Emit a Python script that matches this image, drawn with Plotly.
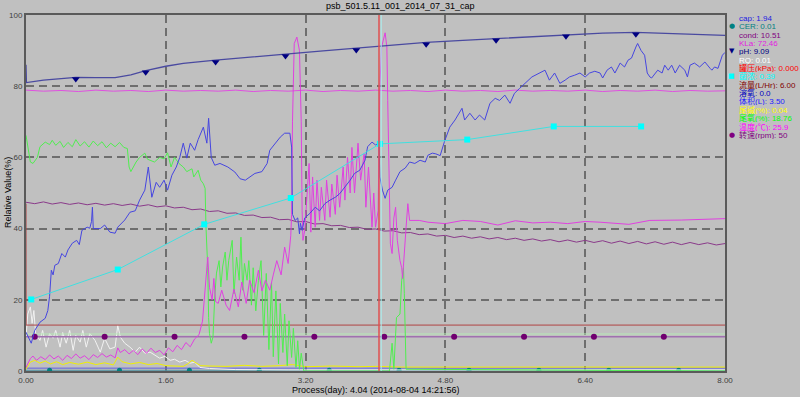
import plotly.graph_objects as go

# ---------------- data (days, relative value %) ----------------
title_text = "psb_501.5.11_001_2014_07_31_cap"
process_text = "Process(day): 4.04 (2014-08-04 14:21:56)"
cursor_day = 4.04

x_ticks = [0.0, 1.6, 3.2, 4.8, 6.4, 8.0]
x_tick_labels = ["0.00", "1.60", "3.20", "4.80", "6.40", "8.00"]
y_ticks = [0, 20, 40, 60, 80, 100]

ph_line = [(0.0, 86.0), (0.005, 81.0), (0.2, 81.7), (0.4, 82.2), (0.57, 82.5), (0.8, 82.4),
           (1.02, 82.4), (1.2, 83.2), (1.37, 84.4), (1.6, 85.6), (1.8, 86.4), (2.17, 87.3),
           (2.6, 88.3), (2.97, 89.0), (3.4, 89.9), (3.78, 90.7), (4.2, 91.6), (4.58, 92.3),
           (5.0, 92.9), (5.38, 93.4), (5.8, 94.0), (6.18, 94.5), (6.6, 94.9), (6.98, 95.1),
           (7.5, 94.7), (8.0, 94.3)]
ph_marker_days = [0.57, 1.37, 2.17, 2.97, 3.78, 4.58, 5.38, 6.18, 6.98]
ph_marker_vals = [82.0, 83.9, 86.8, 88.5, 90.2, 91.8, 92.9, 94.0, 94.6]

temp_days = [i / 5 for i in range(41)]
temp_vals = [78.9, 78.6, 78.8, 78.5, 78.9, 78.6, 78.8, 78.5, 78.9, 78.6, 78.8,
             78.6, 78.9, 78.5, 78.8, 78.6, 78.9, 78.5, 78.8, 78.6, 78.9, 78.6,
             78.8, 78.5, 78.9, 78.6, 78.8, 78.5, 78.9, 78.6, 78.8, 78.6, 78.9,
             78.5, 78.8, 78.6, 78.9, 78.5, 78.8, 78.6, 78.7]

do_series = [(0.00, 10.9), (0.03, 9.5), (0.06, 7.8), (0.10, 11.4), (0.16, 13.7), (0.22, 14.8),
             (0.25, 17.0), (0.27, 21.0), (0.29, 28.3), (0.31, 27.0), (0.33, 29.7), (0.37, 30.2),
             (0.41, 33.0), (0.45, 32.0), (0.48, 34.0), (0.53, 35.9), (0.58, 36.7), (0.61, 35.5),
             (0.64, 39.5), (0.70, 40.4), (0.73, 40.1), (0.75, 42.0), (0.76, 46.0), (0.77, 40.0),
             (0.85, 40.0), (0.90, 41.0), (0.96, 39.0), (1.02, 38.7), (1.05, 40.4), (1.13, 42.4),
             (1.19, 44.6), (1.25, 45.0), (1.30, 48.0), (1.36, 50.8), (1.40, 57.3), (1.44, 48.8),
             (1.49, 53.0), (1.53, 51.6), (1.58, 53.6), (1.62, 50.8), (1.67, 55.0), (1.72, 57.3),
             (1.76, 60.0), (1.80, 64.0), (1.84, 59.8), (1.88, 64.0), (1.93, 62.0), (1.97, 65.0),
             (2.03, 68.5), (2.07, 64.0), (2.09, 71.0), (2.12, 60.0), (2.16, 57.8), (2.22, 58.3),
             (2.31, 57.3), (2.39, 55.9), (2.45, 54.0), (2.51, 53.6), (2.56, 54.5), (2.62, 55.5),
             (2.70, 56.0), (2.76, 58.3), (2.79, 62.0), (2.85, 64.0), (2.91, 65.7), (2.96, 66.8),
             (3.02, 66.8), (3.04, 62.9), (3.05, 44.0), (3.08, 42.3), (3.11, 43.0), (3.13, 38.5),
             (3.14, 41.5), (3.16, 39.5), (3.19, 43.0), (3.25, 44.3), (3.31, 46.0), (3.36, 45.0),
             (3.42, 47.0), (3.48, 48.0), (3.54, 48.8), (3.59, 49.8), (3.65, 51.6), (3.71, 53.6),
             (3.76, 55.5), (3.82, 56.4), (3.88, 59.2), (3.91, 63.0), (3.96, 64.3), (4.00, 63.5),
             (4.04, 64.0), (4.05, 54.5), (4.08, 50.8), (4.11, 48.5), (4.14, 50.8), (4.19, 51.6),
             (4.23, 53.6), (4.28, 56.0), (4.34, 57.0), (4.39, 58.7), (4.45, 58.3), (4.51, 59.2),
             (4.57, 58.7), (4.60, 60.6), (4.65, 61.2), (4.69, 61.0), (4.74, 60.5), (4.79, 64.5),
             (4.85, 68.5), (4.91, 70.5), (4.99, 73.8), (5.02, 70.5), (5.08, 72.4), (5.14, 70.5),
             (5.19, 71.9), (5.25, 70.5), (5.31, 75.2), (5.37, 76.6), (5.42, 76.0), (5.48, 77.5),
             (5.54, 75.2), (5.59, 78.0), (5.65, 79.4), (5.71, 80.8), (5.74, 81.7), (5.79, 82.6),
             (5.94, 84.5), (5.99, 81.7), (6.05, 83.7), (6.11, 80.8), (6.17, 81.7), (6.22, 82.6),
             (6.28, 83.1), (6.34, 83.7), (6.40, 82.6), (6.45, 83.7), (6.51, 84.2), (6.57, 83.7),
             (6.60, 82.3), (6.65, 84.5), (6.70, 85.4), (6.74, 83.7), (6.80, 86.5), (6.85, 85.4),
             (6.89, 87.3), (6.93, 87.9), (6.98, 91.0), (7.00, 92.0), (7.04, 90.0), (7.08, 88.7),
             (7.11, 83.7), (7.14, 82.6), (7.16, 82.3), (7.20, 83.7), (7.23, 84.5), (7.28, 83.7),
             (7.31, 85.9), (7.35, 84.5), (7.39, 85.9), (7.43, 83.7), (7.48, 85.9), (7.54, 84.5),
             (7.57, 82.6), (7.60, 85.9), (7.65, 86.5), (7.71, 85.4), (7.77, 86.8), (7.83, 85.0),
             (7.85, 84.5), (7.88, 85.4), (7.92, 85.0), (7.94, 86.5), (7.97, 88.7), (8.0, 89.5)]

o2_series = [(0.00, 66.2), (0.02, 63.0), (0.05, 58.7), (0.08, 58.3), (0.13, 60.0), (0.16, 63.0),
             (0.22, 64.3), (0.27, 63.6), (0.30, 64.8), (0.34, 63.4), (0.39, 64.5), (0.43, 62.8),
             (0.48, 64.2), (0.53, 63.0), (0.57, 65.0), (0.62, 63.2), (0.67, 64.4), (0.72, 62.9),
             (0.77, 64.6), (0.82, 63.3), (0.87, 64.4), (0.92, 62.7), (0.97, 64.0), (1.02, 63.0),
             (1.07, 64.2), (1.12, 62.8), (1.16, 62.5), (1.18, 57.3), (1.20, 56.0), (1.26, 58.7),
             (1.30, 60.0), (1.36, 61.2), (1.39, 59.5), (1.42, 59.2), (1.47, 58.7), (1.53, 60.0),
             (1.58, 59.6), (1.62, 61.3), (1.66, 57.3), (1.70, 60.0), (1.75, 58.3), (1.80, 57.3),
             (1.84, 56.0), (1.90, 56.8), (1.92, 54.5), (1.97, 56.4), (2.00, 53.6), (2.03, 52.6),
             (2.05, 51.3), (2.06, 40.4), (2.08, 29.0), (2.09, 15.0), (2.10, 10.5), (2.12, 7.8),
             (2.14, 9.5), (2.16, 20.8), (2.18, 27.5), (2.21, 31.0), (2.23, 23.6), (2.25, 29.2),
             (2.28, 33.4), (2.30, 25.5), (2.32, 31.0), (2.36, 36.7), (2.38, 21.7), (2.41, 32.0),
             (2.44, 25.5), (2.46, 37.6), (2.48, 22.7), (2.50, 30.2), (2.53, 25.5), (2.55, 31.0),
             (2.58, 18.5), (2.60, 29.0), (2.63, 16.9), (2.66, 25.5), (2.69, 31.0), (2.72, 10.0),
             (2.75, 27.4), (2.78, 6.0), (2.81, 25.0), (2.83, 4.0), (2.86, 22.5), (2.89, 2.0),
             (2.91, 19.0), (2.94, 5.2), (2.96, 16.0), (2.99, 1.5), (3.01, 14.1), (3.04, 3.8),
             (3.06, 12.0), (3.09, 1.0), (3.11, 8.5), (3.13, 0.5), (3.15, 5.0), (3.18, 0.0),
             (4.16, 0.0), (4.19, 7.8), (4.21, 0.5), (4.24, 15.0), (4.28, 16.0), (4.30, 25.5),
             (4.32, 29.0), (4.33, 21.7), (4.35, 0.5), (8.0, 0.0)]

kla_series = [(0.00, 1.0), (0.05, 3.5), (0.08, 4.2), (0.12, 3.0), (0.17, 4.0), (0.22, 3.2),
              (0.27, 4.5), (0.32, 3.4), (0.37, 4.2), (0.42, 3.0), (0.47, 4.4), (0.52, 3.5),
              (0.57, 4.8), (0.62, 3.6), (0.67, 4.3), (0.72, 3.2), (0.77, 4.6), (0.82, 3.8),
              (0.87, 4.9), (0.92, 3.9), (0.97, 4.5), (1.02, 3.7), (1.05, 6.5), (1.08, 5.2),
              (1.13, 6.0), (1.18, 4.8), (1.23, 5.8), (1.28, 4.6), (1.33, 6.2), (1.38, 5.0),
              (1.43, 6.4), (1.48, 5.2), (1.53, 5.8), (1.58, 4.5), (1.63, 6.5), (1.68, 5.4),
              (1.73, 7.2), (1.78, 6.0), (1.83, 8.0), (1.88, 6.8), (1.93, 9.0), (1.98, 10.2),
              (2.02, 14.0), (2.05, 24.0), (2.08, 32.0), (2.10, 23.5), (2.13, 20.0), (2.15, 26.0),
              (2.17, 19.5), (2.20, 19.0), (2.24, 22.7), (2.29, 18.5), (2.33, 17.0), (2.38, 23.0),
              (2.43, 18.0), (2.47, 25.0), (2.52, 19.0), (2.56, 25.5), (2.61, 22.0), (2.66, 28.3),
              (2.70, 22.5), (2.74, 25.5), (2.79, 22.7), (2.83, 27.0), (2.87, 31.0), (2.92, 27.0),
              (2.96, 34.8), (3.00, 30.2), (3.03, 38.0), (3.04, 44.0), (3.05, 70.0), (3.07, 92.0),
              (3.10, 93.8), (3.13, 90.0), (3.15, 70.0), (3.16, 45.0), (3.17, 36.7), (3.19, 39.5),
              (3.24, 58.3), (3.26, 39.0), (3.28, 54.5), (3.31, 40.4), (3.33, 53.6), (3.36, 42.3),
              (3.38, 51.6), (3.42, 42.3), (3.44, 53.6), (3.48, 43.2), (3.50, 52.5), (3.54, 44.0),
              (3.56, 55.0), (3.59, 46.0), (3.63, 57.3), (3.65, 48.0), (3.68, 60.0), (3.71, 50.0),
              (3.73, 62.8), (3.76, 50.0), (3.80, 64.0), (3.83, 53.6), (3.87, 61.0), (3.89, 46.0),
              (3.92, 57.3), (3.96, 40.4), (3.98, 50.0), (4.00, 40.4), (4.03, 45.0), (4.05, 80.0),
              (4.07, 91.0), (4.11, 95.0), (4.13, 91.0), (4.14, 76.0), (4.16, 45.0), (4.17, 35.9),
              (4.19, 33.0), (4.21, 43.0), (4.23, 46.0), (4.25, 36.7), (4.28, 31.0), (4.30, 29.0),
              (4.31, 26.0), (4.32, 29.0), (4.34, 35.9), (4.35, 40.4), (4.37, 47.0), (4.38, 44.3),
              (4.39, 42.3), (4.50, 42.3), (4.60, 41.8), (4.80, 41.4), (5.00, 42.3), (5.20, 42.0),
              (5.40, 41.0), (5.60, 42.2), (5.80, 41.6), (6.00, 41.8), (6.20, 41.4), (6.40, 42.0),
              (6.57, 41.8), (6.90, 41.2), (7.14, 42.3), (7.50, 42.4), (7.80, 42.6), (8.00, 42.8)]

cond_days = [i / 10 for i in range(81)]
cond_vals = [47.4, 47.0, 47.5, 46.9, 47.3, 46.8, 47.2, 46.7, 47.1, 46.6, 47.0, 46.5, 46.9, 46.3,
             46.7, 46.1, 46.4, 45.8, 46.0, 45.3, 45.5, 44.8, 45.0, 44.3, 44.4, 43.7, 43.8, 43.1,
             43.2, 42.5, 42.6, 41.9, 42.0, 41.3, 41.4, 40.8, 40.9, 40.3, 40.4, 39.8, 39.9, 39.3,
             39.4, 38.8, 38.9, 38.3, 38.5, 37.9, 38.1, 37.5, 37.9, 37.3, 37.7, 37.1, 37.5, 36.9,
             37.3, 36.7, 37.1, 36.5, 36.9, 36.3, 36.8, 36.2, 36.7, 36.1, 36.6, 35.9, 36.5, 35.8,
             36.4, 35.7, 36.3, 35.6, 36.2, 35.5, 36.1, 35.5, 36.0, 35.4, 35.8]

biomass_days = [0.06, 1.05, 2.04, 3.03, 4.05, 5.05, 6.04, 7.04]
biomass_vals = [20.1, 28.5, 41.2, 48.6, 63.8, 65.0, 68.7, 68.7]

flow_days = [0.0, 0.001, 8.0]
flow_vals = [47.0, 12.9, 12.9]

rpm_days = [0.0, 8.0]
rpm_vals = [9.6, 9.6]
rpm_marker_days = [0.1, 0.9, 1.7, 2.5, 3.3, 4.1, 4.9, 5.7, 6.5, 7.3]
rpm_marker_vals = [9.6] * 10

pale_days = [0.0, 8.0]
pale_vals = [10.4, 10.4]

rq_series = [(0.00, 9.5), (0.02, 16.0), (0.05, 18.0), (0.07, 13.4), (0.09, 17.0), (0.11, 10.5),
             (0.16, 8.6), (0.19, 11.4), (0.23, 6.7), (0.27, 10.5), (0.31, 9.2), (0.34, 11.4),
             (0.39, 6.7), (0.42, 10.8), (0.46, 7.8), (0.50, 11.4), (0.54, 5.8), (0.57, 10.0),
             (0.62, 8.1), (0.65, 11.4), (0.69, 6.7), (0.73, 10.5), (0.79, 8.6), (0.85, 5.3),
             (0.90, 9.2), (0.96, 6.2), (1.02, 6.7), (1.05, 12.8), (1.08, 9.5), (1.13, 7.8),
             (1.19, 6.7), (1.25, 5.3), (1.30, 6.7), (1.36, 5.0), (1.42, 5.3), (1.48, 4.4),
             (1.53, 3.6), (1.59, 4.1), (1.65, 3.0), (1.70, 3.3), (1.76, 2.5), (1.82, 3.0),
             (1.88, 2.2), (1.93, 2.5), (1.99, 1.0), (2.10, 0.7), (2.40, 0.4), (3.00, 0.3),
             (8.00, 0.3)]

alkali_series = [(0.00, 0.5), (0.03, 1.5), (0.05, 2.5), (0.10, 3.0), (0.16, 2.2), (0.22, 2.8),
                 (0.28, 2.0), (0.35, 2.6), (0.42, 1.8), (0.50, 2.4), (0.60, 1.9), (0.70, 2.5),
                 (0.80, 1.8), (0.90, 2.3), (1.00, 1.7), (1.05, 3.9), (1.10, 2.6), (1.20, 2.0),
                 (1.30, 2.4), (1.40, 1.8), (1.50, 2.1), (1.60, 1.5), (1.70, 1.4), (1.80, 1.3),
                 (1.85, 2.0), (1.90, 3.0), (1.95, 2.2), (2.00, 1.5), (2.10, 1.4), (2.30, 1.3),
                 (2.50, 1.6), (2.70, 1.3), (2.90, 1.5), (3.05, 1.8), (3.20, 1.2), (3.50, 1.4),
                 (3.80, 1.2), (4.00, 1.3), (4.30, 1.1), (8.00, 1.1)]

cap_days = [0.0, 8.0]
cap_vals = [0.8, 0.8]

cer_days = [0.0, 8.0]
cer_vals = [0.2, 0.2]
cer_marker_days = [0.27, 1.07, 1.87, 2.67, 3.47, 4.27, 5.07, 5.87, 6.67, 7.47]
cer_marker_vals = [0.2] * 10

legend_labels = ["cap: 1.94", "CER: 0.01", "cond: 10.51", "KLa: 72.46", "pH: 9.09", "RQ: 0.01",
                 "罐压(kPa): 0.000", "菌浓: 0.39", "流量(L/Hr): 6.00", "溶氧: 0.0",
                 "体积(L): 3.50", "尾碱(%): 0.04", "尾氧(%): 18.76", "温度(℃): 25.9",
                 "转速(rpm): 50"]
legend_colors = ["#2020E0", "#008080", "#800080", "#E020E0", "#000080", "#FFFFFF",
                 "#FF0000", "#00FFFF", "#800000", "#0000C0", "#2020FF", "#FFFF00",
                 "#00FF00", "#FF00FF", "#800080"]
legend_symbols = ["", "●", "", "", "▼", "", "", "■", "", "", "", "", "", "", "●"]


def unzip(pairs):
    return [p[0] for p in pairs], [p[1] for p in pairs]


fig = go.Figure()


def add_line(x, y, color, width=1.0):
    fig.add_trace(go.Scatter(x=x, y=y, mode="lines", line=dict(color=color, width=width),
                             showlegend=False, hoverinfo="skip"))


def add_markers(x, y, color, symbol, size):
    fig.add_trace(go.Scatter(x=x, y=y, mode="markers",
                             marker=dict(color=color, symbol=symbol, size=size, line=dict(width=0)),
                             showlegend=False, hoverinfo="skip", cliponaxis=False))


add_line(cap_days, cap_vals, "#6060E0")
add_line(cer_days, cer_vals, "#5090A0")
add_markers(cer_marker_days, cer_marker_vals, "#008080", "circle", 5)
add_line(*unzip(rq_series), "#F2F2F2")
add_line(*unzip(alkali_series), "#F0F000")
add_line(flow_days, flow_vals, "#B04444")
add_line(pale_days, pale_vals, "#B8E8B8")
add_line(rpm_days, rpm_vals, "#A070B0", 1.5)
add_markers(rpm_marker_days, rpm_marker_vals, "#700070", "circle", 6)
add_line(cond_days, cond_vals, "#8A3A8A")
add_line(temp_days, temp_vals, "#E050E0")
add_line(*unzip(o2_series), "#50EE50")
add_line(*unzip(kla_series), "#E040E0")
add_line(*unzip(do_series), "#4646E0")
add_line(biomass_days, biomass_vals, "#40E0E0")
add_markers(biomass_days, biomass_vals, "#00FFFF", "square", 6)
add_line(*unzip(ph_line), "#4A4AA0", 1.3)
add_markers(ph_marker_days, ph_marker_vals, "#000080", "triangle-down", 7)

# cursor line at the current process day
fig.add_shape(type="line", xref="x", yref="paper", x0=cursor_day, x1=cursor_day, y0=0, y1=1,
              line=dict(color="#E05050", width=1.5))
fig.add_shape(type="line", xref="x", yref="paper", x0=cursor_day + 0.025, x1=cursor_day + 0.025,
              y0=0, y1=1, line=dict(color="#A8F0F0", width=1))

# layout geometry (pixels)
L, R, T, B = 26, 75, 15, 26
W, H = 800, 397
pw, ph = W - L - R, H - T - B


def px_to_paper_x(px):
    return (px - L) / pw


def py_to_paper_y(py):
    return (H - B - py) / ph


LEG_FONT = "Liberation Sans, Arial, Noto Sans CJK SC"
annotations = []
for i, (lab, col, sym) in enumerate(zip(legend_labels, legend_colors, legend_symbols)):
    ypx = 18 + i * 8.35
    annotations.append(dict(x=px_to_paper_x(738), y=py_to_paper_y(ypx), xref="paper", yref="paper",
                            text=lab, showarrow=False, xanchor="left", yanchor="middle",
                            height=8, borderpad=0,
                            font=dict(size=8, color=col, family=LEG_FONT)))
    if sym:
        annotations.append(dict(x=px_to_paper_x(732), y=py_to_paper_y(ypx), xref="paper",
                                yref="paper", text=sym, showarrow=False, xanchor="center",
                                yanchor="middle", height=8, borderpad=0,
                                font=dict(size=7, color=col, family="DejaVu Sans")))

annotations.append(dict(x=0.5, y=py_to_paper_y(390), xref="paper", yref="paper",
                        text=process_text, showarrow=False, xanchor="center", yanchor="middle",
                        height=10, borderpad=0,
                        font=dict(size=9, color="#000000", family="Arial, Liberation Sans")))
annotations.append(dict(x=px_to_paper_x(8), y=0.5, xref="paper", yref="paper",
                        text="Relative Value(%)", textangle=-90, showarrow=False,
                        xanchor="center", yanchor="middle",
                        font=dict(size=9, color="#000000", family="Arial, Liberation Sans")))
annotations.append(dict(x=px_to_paper_x(400), y=py_to_paper_y(6), xref="paper", yref="paper",
                        text=title_text, showarrow=False, xanchor="center", yanchor="middle",
                        font=dict(size=9, color="#000000", family="Arial, Liberation Sans")))

fig.update_layout(
    width=W, height=H,
    margin=dict(l=L, r=R, t=T, b=B, pad=0, autoexpand=False),
    paper_bgcolor="#C0C0C0", plot_bgcolor="#C0C0C0",
    showlegend=False,
    annotations=annotations,
    xaxis=dict(range=[0, 8], tickvals=x_ticks, ticktext=x_tick_labels, showgrid=True,
               gridcolor="#6E6E6E", gridwidth=1.5, griddash="8px,5px", zeroline=False,
               showline=True, linecolor="#5A5A5A", linewidth=2, mirror=True, ticks="",
               automargin=False,
               tickfont=dict(size=8, color="#404040", family="Arial, Liberation Sans")),
    yaxis=dict(range=[0, 100], tickvals=y_ticks, showgrid=True,
               gridcolor="#6E6E6E", gridwidth=1.5, griddash="8px,5px", zeroline=False,
               showline=True, linecolor="#5A5A5A", linewidth=2, mirror=True, ticks="",
               automargin=False,
               tickfont=dict(size=8, color="#404040", family="Arial, Liberation Sans")),
)

fig.write_html("out.html", config={"displayModeBar": False},
               post_script="document.body.style.margin='0px';document.body.style.overflow='hidden';")
